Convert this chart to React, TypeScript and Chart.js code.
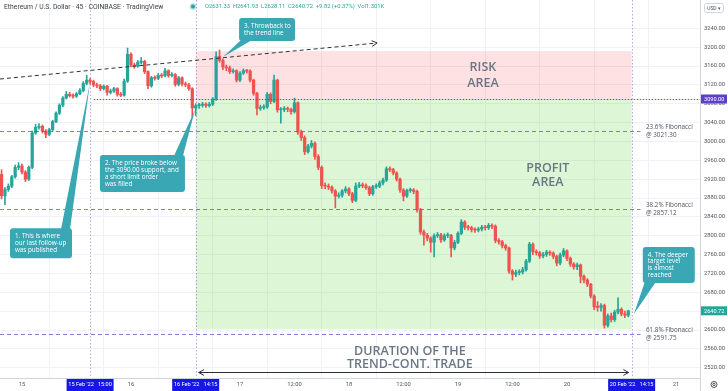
import React, { useEffect, useRef } from 'react';
import { Chart, registerables } from 'chart.js';

Chart.register(...registerables);

// ---------- data ----------
// 45-minute candles, first candle opens Feb 14 19:30 (hours relative to Feb 16 00:00)
const FIRST_CANDLE_HOUR = -28.5;
const CANDLE_HOURS = 0.75;
const firstOpen = 2930;
const closes = [
  2885, 2898, 2905, 2925, 2945, 2948, 2935, 2920, 2945, 3018,
  3030, 3032, 3022, 3015, 3025, 3042, 3060, 3077, 3092, 3100,
  3097, 3096, 3101, 3108, 3123, 3130, 3127, 3120, 3118, 3112,
  3117, 3104, 3107, 3112, 3100, 3098, 3128, 3185, 3162, 3160,
  3168, 3170, 3148, 3118, 3135, 3134, 3140, 3139, 3150, 3140,
  3142, 3121, 3135, 3122, 3120, 3112, 3071, 3076, 3077, 3079,
  3076, 3079, 3090, 3180, 3172, 3158, 3156, 3148, 3150, 3130,
  3145, 3150, 3149, 3130, 3102, 3070, 3072, 3073, 3100, 3085,
  3130, 3067, 3068, 3070, 3068, 3063, 3082, 3020, 3008, 2978,
  2990, 2996, 2968, 2945, 2906, 2905, 2903, 2895, 2884, 2886,
  2895, 2899, 2889, 2875, 2905, 2908, 2906, 2902, 2889, 2904,
  2905, 2912, 2918, 2942, 2940, 2933, 2920, 2897, 2884, 2896,
  2897, 2894, 2855, 2808, 2801, 2795, 2786, 2800, 2802, 2791,
  2800, 2801, 2774, 2786, 2805, 2829, 2818, 2817, 2813, 2812,
  2814, 2818, 2817, 2822, 2820, 2790, 2787, 2779, 2774, 2725,
  2718, 2722, 2723, 2728, 2746, 2782, 2766, 2764, 2757, 2760,
  2765, 2763, 2756, 2742, 2759, 2768, 2752, 2740, 2734, 2738,
  2714, 2706, 2697, 2672, 2649, 2648, 2652, 2610, 2630, 2622,
  2638, 2644, 2634, 2631.33, 2640.72,
];
const highs = [
  2940, 2902, 2910, 2928, 2950, 2955, 2952, 2938, 2948, 3022,
  3036, 3038, 3035, 3025, 3028, 3045, 3063, 3080, 3095, 3106,
  3104, 3101, 3104, 3112, 3127, 3140, 3134, 3130, 3124, 3121,
  3120, 3119, 3111, 3115, 3114, 3104, 3132, 3198, 3188, 3166,
  3172, 3178, 3172, 3150, 3138, 3139, 3144, 3144, 3155, 3152,
  3146, 3144, 3138, 3137, 3126, 3123, 3114, 3080, 3081, 3083,
  3082, 3083, 3093, 3190, 3194, 3175, 3162, 3160, 3154, 3152,
  3148, 3154, 3153, 3152, 3132, 3104, 3077, 3078, 3104, 3103,
  3141, 3132, 3072, 3074, 3073, 3071, 3092, 3084, 3024, 3012,
  2994, 3002, 2999, 2972, 2948, 2912, 2910, 2906, 2898, 2891,
  2898, 2904, 2902, 2892, 2912, 2913, 2912, 2910, 2905, 2907,
  2910, 2916, 2922, 2946, 2946, 2943, 2936, 2922, 2900, 2899,
  2901, 2900, 2897, 2858, 2812, 2805, 2798, 2804, 2807, 2805,
  2804, 2806, 2803, 2790, 2808, 2834, 2832, 2822, 2820, 2817,
  2818, 2822, 2822, 2826, 2825, 2823, 2794, 2790, 2782, 2776,
  2728, 2727, 2728, 2733, 2750, 2786, 2785, 2770, 2767, 2765,
  2769, 2768, 2766, 2759, 2763, 2773, 2770, 2755, 2743, 2742,
  2740, 2717, 2709, 2699, 2675, 2660, 2656, 2655, 2634, 2636,
  2642, 2668, 2647, 2640, 2641.93,
];
const lows = [
  2878, 2866, 2894, 2902, 2922, 2940, 2931, 2915, 2917, 2942,
  3015, 3026, 3018, 3008, 3012, 3022, 3040, 3057, 3074, 3090,
  3094, 3092, 3093, 3099, 3105, 3120, 3122, 3116, 3114, 3108,
  3109, 3098, 3101, 3104, 3096, 3095, 3096, 3125, 3158, 3155,
  3157, 3164, 3144, 3112, 3115, 3130, 3131, 3135, 3137, 3136,
  3137, 3117, 3118, 3118, 3116, 3108, 3050, 3055, 3070, 3073,
  3072, 3073, 3076, 3087, 3168, 3152, 3150, 3144, 3145, 3126,
  3127, 3142, 3145, 3126, 3098, 3056, 3066, 3068, 3070, 3080,
  3082, 3062, 3039, 3063, 3063, 3058, 3060, 3015, 3002, 2972,
  2975, 2986, 2962, 2940, 2900, 2900, 2898, 2890, 2859, 2880,
  2882, 2891, 2885, 2870, 2872, 2902, 2902, 2898, 2885, 2886,
  2900, 2902, 2908, 2915, 2936, 2929, 2916, 2892, 2874, 2881,
  2892, 2889, 2850, 2803, 2780, 2789, 2765, 2755, 2796, 2786,
  2788, 2796, 2755, 2770, 2783, 2802, 2813, 2812, 2808, 2807,
  2808, 2810, 2812, 2813, 2815, 2785, 2782, 2774, 2769, 2720,
  2706, 2713, 2717, 2719, 2725, 2743, 2760, 2759, 2752, 2753,
  2756, 2758, 2751, 2736, 2738, 2755, 2747, 2735, 2729, 2728,
  2700, 2700, 2692, 2668, 2643, 2640, 2640, 2604, 2606, 2617,
  2618, 2634, 2630, 2626, 2628.11,
];

const priceTicks = [3240, 3200, 3160, 3120, 3080, 3040, 3000, 2960, 2920, 2880, 2840, 2800, 2760, 2720, 2680, 2640, 2600, 2560, 2520];
const timeTickHours = [-24, -12, 0, 12, 24, 36, 48, 60, 72, 84, 96, 108, 120];
const timeTickLabels = ['15', '', '16', '', '17', '12:00', '18', '12:00', '19', '12:00', '20', '', '21'];

const markerHours = [-9, 14.25, 110.25];
const markerLabels = ["15 Feb '22   15:00", "16 Feb '22   14:15", "20 Feb '22   14:15"];

const fibLevels = [3021.3, 2857.12, 2591.75];
const fibNames = ['23.6% Fibonacci', '38.2% Fibonacci', '61.8% Fibonacci'];
const fibValueLabels = ['@ 3021.30', '@ 2857.12', '@ 2591.75'];

const supportLevel = 3090;
const riskTop = 3191.5;
const profitBottom = 2602;
const tradeStartHour = 14.25;
const tradeEndHour = 110.25;
const lastPrice = 2640.72;
const trendStart = [-28.84, 3132.4];
const trendEnd = [54.2, 3208.8];

const calloutTexts = [
  ['1. This is where', 'our last follow-up', 'was published'],
  ['2. The price broke below', 'the 3090.00 support, and', 'a short limit order', 'was filled'],
  ['3. Throwback to', 'the trend line'],
  ['4. The deeper', 'target level', 'is almost', 'reached'],
];
// [boxHour, boxPrice, width, height, apexHour, apexPrice, tailSide]
const calloutGeom: any[] = [
  [-26.64, 2816, 62, 30, -9.0, 3126, 'top-right'],
  [-6.83, 2971, 85, 37, 14.1, 3067, 'top-right'],
  [23.8, 3262, 56, 23, 20.25, 3179, 'bottom-left'],
  [112.7, 2776, 52, 36, 110.75, 2634, 'bottom-left'],
];

const X_MIN = -28.84;
const X_MAX = 125.3;
const Y_MIN = 2498.2;
const Y_MAX = 3300;

const GREEN = '#26a69a';
const RED = '#ef5350';
const TEAL_BOX = '#3aa7b4';
const TEXT_GRAY = '#6b7685';
const AXIS_FONT = 'Roboto';

function arrowHead(ctx: CanvasRenderingContext2D, x: number, y: number, ang: number, size: number) {
  ctx.beginPath();
  ctx.moveTo(x - size * Math.cos(ang - 0.5), y - size * Math.sin(ang - 0.5));
  ctx.lineTo(x, y);
  ctx.lineTo(x - size * Math.cos(ang + 0.5), y - size * Math.sin(ang + 0.5));
  ctx.stroke();
}

function roundRect(ctx: CanvasRenderingContext2D, x: number, y: number, w: number, h: number, r: number) {
  ctx.beginPath();
  ctx.moveTo(x + r, y);
  ctx.lineTo(x + w - r, y);
  ctx.quadraticCurveTo(x + w, y, x + w, y + r);
  ctx.lineTo(x + w, y + h - r);
  ctx.quadraticCurveTo(x + w, y + h, x + w - r, y + h);
  ctx.lineTo(x + r, y + h);
  ctx.quadraticCurveTo(x, y + h, x, y + h - r);
  ctx.lineTo(x, y + r);
  ctx.quadraticCurveTo(x, y, x + r, y);
  ctx.closePath();
}

const overlayPlugin = {
  id: 'overlay',
  beforeDatasetsDraw(chart: any) {
    const { ctx, chartArea: ca, scales } = chart;
    const xs = scales.x, ys = scales.y;
    ctx.save();
    ctx.beginPath();
    ctx.rect(ca.left, ca.top, ca.right - ca.left, ca.bottom - ca.top);
    ctx.clip();
    const x0 = xs.getPixelForValue(tradeStartHour);
    const x1 = xs.getPixelForValue(tradeEndHour);
    const yRisk = ys.getPixelForValue(riskTop);
    const ySup = ys.getPixelForValue(supportLevel);
    const yProf = ys.getPixelForValue(profitBottom);
    ctx.fillStyle = 'rgba(242, 54, 69, 0.15)';
    ctx.fillRect(x0, yRisk, x1 - x0, ySup - yRisk);
    ctx.fillStyle = 'rgba(120, 220, 90, 0.25)';
    ctx.fillRect(x0, ySup, x1 - x0, yProf - ySup);

    // vertical dotted markers
    ctx.strokeStyle = 'rgba(120, 100, 210, 0.55)';
    ctx.lineWidth = 1;
    ctx.setLineDash([1.5, 2]);
    markerHours.forEach((h) => {
      const px = Math.round(xs.getPixelForValue(h)) + 0.5;
      ctx.beginPath();
      ctx.moveTo(px, ca.top);
      ctx.lineTo(px, ca.bottom);
      ctx.stroke();
    });
    ctx.restore();
  },
  afterDatasetsDraw(chart: any) {
    const { ctx, chartArea: ca, scales } = chart;
    const xs = scales.x, ys = scales.y;
    ctx.save();
    ctx.beginPath();
    ctx.rect(ca.left, ca.top, ca.right - ca.left, ca.bottom - ca.top);
    ctx.clip();

    // support dotted line
    ctx.strokeStyle = '#6a4fc9';
    ctx.lineWidth = 1;
    ctx.setLineDash([1.5, 1.5]);
    const ys0 = Math.round(ys.getPixelForValue(supportLevel)) + 0.5;
    ctx.beginPath();
    ctx.moveTo(xs.getPixelForValue(-8.2), ys0);
    ctx.lineTo(ca.right, ys0);
    ctx.stroke();

    // fib lines
    ctx.strokeStyle = 'rgba(80, 90, 200, 0.75)';
    ctx.setLineDash([4, 3]);
    const fibEnd = xs.getPixelForValue(112.2);
    fibLevels.forEach((lv, i) => {
      const py = Math.round(ys.getPixelForValue(lv)) + 0.5;
      ctx.beginPath();
      ctx.moveTo(ca.left, py);
      ctx.lineTo(fibEnd, py);
      ctx.stroke();
      ctx.fillStyle = '#50535e';
      ctx.font = '6.3px "Open Sans"';
      ctx.textAlign = 'left';
      ctx.textBaseline = 'middle';
      const lx = xs.getPixelForValue(113.4);
      ctx.fillText(fibNames[i], lx, py - 4);
      ctx.fillText(fibValueLabels[i], lx, py + 3.5);
    });
    ctx.setLineDash([]);

    // trend line (dashed) with arrow
    const tx0 = xs.getPixelForValue(trendStart[0]);
    const ty0 = ys.getPixelForValue(trendStart[1]);
    const tx1 = xs.getPixelForValue(trendEnd[0]);
    const ty1 = ys.getPixelForValue(trendEnd[1]);
    ctx.strokeStyle = '#333';
    ctx.lineWidth = 1;
    ctx.setLineDash([4, 3]);
    ctx.beginPath();
    ctx.moveTo(tx0, ty0);
    ctx.lineTo(tx1, ty1);
    ctx.stroke();
    ctx.setLineDash([]);
    arrowHead(ctx, tx1, ty1, Math.atan2(ty1 - ty0, tx1 - tx0), 6);

    // area texts
    ctx.fillStyle = TEXT_GRAY;
    ctx.font = '600 12.5px "Open Sans"';
    ctx.textAlign = 'center';
    ctx.textBaseline = 'middle';
    ctx.fillText('RISK', xs.getPixelForValue(77.5), ys.getPixelForValue(3156));
    ctx.fillText('AREA', xs.getPixelForValue(77.5), ys.getPixelForValue(3124));
    ctx.fillText('PROFIT', xs.getPixelForValue(91.8), ys.getPixelForValue(2942));
    ctx.fillText('AREA', xs.getPixelForValue(91.8), ys.getPixelForValue(2914));
    ctx.fillText('DURATION OF THE', xs.getPixelForValue(61.4), ys.getPixelForValue(2555.5));
    ctx.fillText('TREND-CONT. TRADE', xs.getPixelForValue(61.4), ys.getPixelForValue(2528));

    // duration arrow
    const dx0 = xs.getPixelForValue(tradeStartHour) + 3;
    const dx1 = xs.getPixelForValue(tradeEndHour) - 3;
    const dy = Math.round(ys.getPixelForValue(2511)) + 0.5;
    ctx.strokeStyle = '#2a2e39';
    ctx.lineWidth = 1;
    ctx.beginPath();
    ctx.moveTo(dx0, dy);
    ctx.lineTo(dx1, dy);
    ctx.stroke();
    arrowHead(ctx, dx1, dy, 0, 6);
    arrowHead(ctx, dx0, dy, Math.PI, 6);

    // callouts
    calloutGeom.forEach((g, i) => {
      const [bh, bp, w, h, ah, ap, side] = g;
      const bx = xs.getPixelForValue(bh);
      const by = ys.getPixelForValue(bp);
      const ax = xs.getPixelForValue(ah);
      const ay = ys.getPixelForValue(ap);
      ctx.fillStyle = TEAL_BOX;
      roundRect(ctx, bx, by, w, h, 3);
      ctx.fill();
      ctx.beginPath();
      if (side === 'top-right') {
        ctx.moveTo(bx + w - 11, by + 1);
        ctx.lineTo(bx + w - 2, by + 1);
      } else {
        ctx.moveTo(bx + 2, by + h - 1);
        ctx.lineTo(bx + 13, by + h - 1);
      }
      ctx.lineTo(ax, ay);
      ctx.closePath();
      ctx.fill();
      ctx.fillStyle = '#ffffff';
      ctx.font = '6.3px "Open Sans"';
      ctx.textAlign = 'left';
      ctx.textBaseline = 'middle';
      const lines = calloutTexts[i];
      const lh = 6.8;
      const startY = by + h / 2 - ((lines.length - 1) * lh) / 2;
      lines.forEach((t, k) => ctx.fillText(t, bx + 5, startY + k * lh));
    });
    ctx.restore();
  },
  afterDraw(chart: any) {
    const { ctx, chartArea: ca, scales } = chart;
    const xs = scales.x, ys = scales.y;
    ctx.save();
    // time markers
    ctx.font = `5.6px ${AXIS_FONT}`;
    ctx.textAlign = 'center';
    ctx.textBaseline = 'middle';
    markerHours.forEach((h, i) => {
      const px = xs.getPixelForValue(h);
      ctx.fillStyle = '#1616e8';
      ctx.fillRect(px - 23.5, ca.bottom + 1, 47, 12);
      ctx.fillStyle = '#ffffff';
      ctx.fillText(markerLabels[i], px, ca.bottom + 7);
    });
    // price highlights
    const drawPriceBox = (v: number, bg: string) => {
      const py = ys.getPixelForValue(v);
      ctx.fillStyle = bg;
      ctx.fillRect(ca.right + 1, py - 4.5, 26, 9);
      ctx.fillStyle = '#ffffff';
      ctx.textAlign = 'left';
      ctx.fillText(v.toFixed(2), ca.right + 4, py + 0.3);
    };
    drawPriceBox(supportLevel, '#5e3fc8');
    drawPriceBox(lastPrice, GREEN);

    // USD box
    ctx.strokeStyle = '#d1d4dc';
    ctx.lineWidth = 1;
    roundRect(ctx, ca.right + 4.5, 3.5, 19, 9, 2);
    ctx.stroke();
    ctx.fillStyle = '#50535e';
    ctx.font = `5px ${AXIS_FONT}`;
    ctx.textAlign = 'center';
    ctx.fillText('USD ▾', ca.right + 14, 8.3);

    // gear
    ctx.strokeStyle = '#50535e';
    ctx.beginPath();
    ctx.arc(ca.right + 14, ca.bottom + 6.5, 3, 0, Math.PI * 2);
    ctx.stroke();
    ctx.beginPath();
    ctx.arc(ca.right + 14, ca.bottom + 6.5, 1.2, 0, Math.PI * 2);
    ctx.stroke();
    ctx.strokeStyle = '#d1d4dc';
    ctx.beginPath();
    ctx.moveTo(ca.right + 0.5, ca.bottom);
    ctx.lineTo(ca.right + 0.5, chart.height);
    ctx.stroke();

    // header
    ctx.textAlign = 'left';
    ctx.textBaseline = 'middle';
    ctx.fillStyle = '#3d404a';
    ctx.font = `6.8px ${AXIS_FONT}`;
    ctx.fillText('Ethereum / U.S. Dollar · 45 · COINBASE · TradingView', 4, 7);
    ctx.fillStyle = 'rgba(38,166,154,0.3)';
    ctx.beginPath();
    ctx.arc(193, 6.5, 3.5, 0, Math.PI * 2);
    ctx.fill();
    ctx.fillStyle = GREEN;
    ctx.beginPath();
    ctx.arc(193, 6.5, 2, 0, Math.PI * 2);
    ctx.fill();
    ctx.font = `5.8px ${AXIS_FONT}`;
    ctx.fillText('O2631.33  H2641.93  L2628.11  C2640.72  +9.82 (+0.37%)  Vol1.301K', 205, 7);
    ctx.restore();
  },
};

export default function App() {
  const ref = useRef<HTMLCanvasElement | null>(null);
  useEffect(() => {
    if (!ref.current) return;
    const opens = closes.map((c, i) => (i === 0 ? firstOpen : closes[i - 1]));
    const hours = closes.map((_, i) => FIRST_CANDLE_HOUR + i * CANDLE_HOURS);
    const colors = closes.map((c, i) => (c >= opens[i] ? GREEN : RED));
    const bodies = closes.map((c, i) => ({ x: hours[i], y: [opens[i], c] }));
    const wicks = closes.map((c, i) => ({ x: hours[i], y: [lows[i], highs[i]] }));

    const chart = new Chart(ref.current, {
      type: 'bar',
      data: {
        datasets: [
          {
            data: bodies as any,
            backgroundColor: colors,
            borderWidth: 0,
            barThickness: 2.6,
            minBarLength: 1,
            grouped: false,
            order: 0,
          } as any,
          {
            data: wicks as any,
            backgroundColor: colors,
            borderWidth: 0,
            barThickness: 1,
            grouped: false,
            order: 1,
          } as any,
        ],
      },
      plugins: [overlayPlugin],
      options: {
        responsive: false,
        animation: false,
        devicePixelRatio: 1,
        events: [],
        layout: { padding: 0, autoPadding: false },
        plugins: { legend: { display: false }, tooltip: { enabled: false } },
        scales: {
          x: {
            type: 'linear',
            min: X_MIN,
            max: X_MAX,
            offset: false,
            afterBuildTicks: (axis: any) => {
              axis.ticks = timeTickHours.map((v) => ({ value: v }));
            },
            afterFit: (s: any) => {
              s.height = 13;
              s.paddingLeft = 0;
              s.paddingRight = 0;
            },
            grid: { color: '#eef1f7', drawTicks: false },
            border: { display: true, color: '#d1d4dc' },
            ticks: {
              autoSkip: false,
              maxRotation: 0,
              padding: 3.5,
              color: '#50535e',
              font: { family: AXIS_FONT, size: 5.8 },
              callback: (v: any) => {
                const k = timeTickHours.indexOf(Number(v));
                return k >= 0 ? timeTickLabels[k] : '';
              },
            },
          },
          y: {
            type: 'linear',
            position: 'right',
            min: Y_MIN,
            max: Y_MAX,
            afterBuildTicks: (axis: any) => {
              axis.ticks = priceTicks.map((v) => ({ value: v }));
            },
            afterFit: (s: any) => {
              s.width = 28;
              s.paddingTop = 0;
              s.paddingBottom = 0;
            },
            grid: { color: '#eef1f7', drawTicks: false },
            border: { display: true, color: '#d1d4dc' },
            ticks: {
              padding: 4,
              color: '#50535e',
              font: { family: AXIS_FONT, size: 5.8 },
              callback: (v: any) => Number(v).toFixed(2),
            },
          },
        },
      } as any,
    });
    return () => chart.destroy();
  }, []);

  return (
    <div style={{ position: 'absolute', left: 0, top: 0, width: 728, height: 391, background: '#ffffff' }}>
      <canvas ref={ref} width={728} height={391} style={{ width: 728, height: 391, display: 'block' }} />
    </div>
  );
}
